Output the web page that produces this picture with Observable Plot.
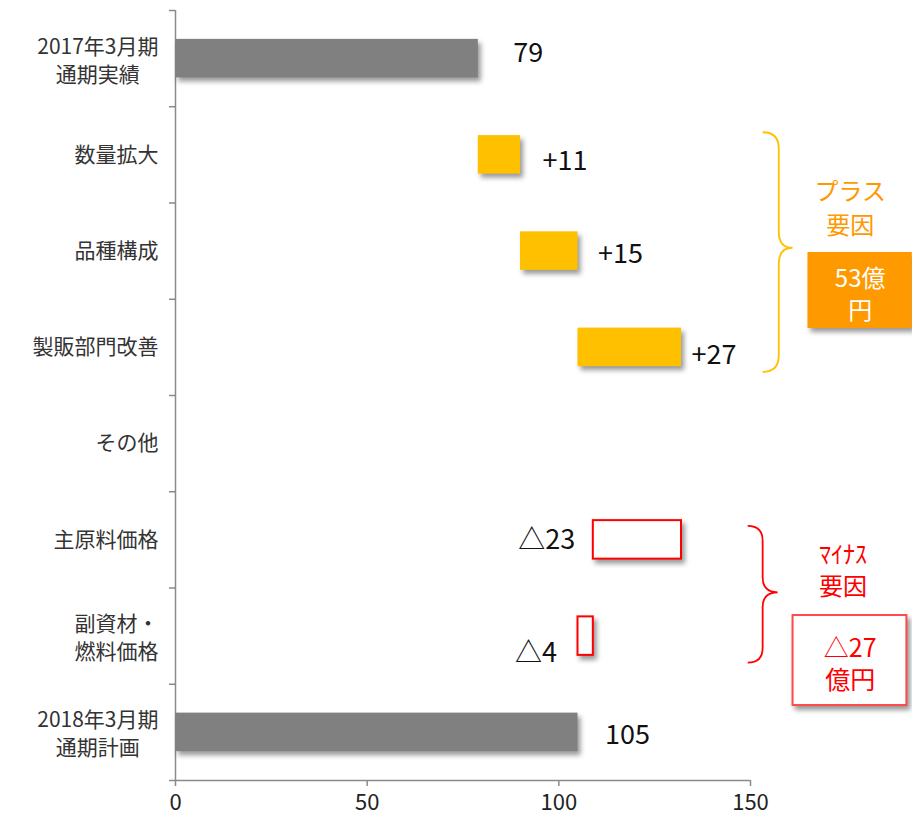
<!DOCTYPE html>
<html><head><meta charset="utf-8">
<script src="https://cdn.jsdelivr.net/npm/d3@7"></script>
<script src="https://cdn.jsdelivr.net/npm/@observablehq/plot@0.6"></script>
<style>html,body{margin:0;padding:0;background:#fff;} svg{display:block}</style>
</head><body><div id="chart"></div>
<script>
// ---- data ----
const categories = ["2017年3月期\n通期実績", "数量拡大", "品種構成", "製販部門改善", "その他", "主原料価格", "副資材・\n燃料価格", "2018年3月期\n通期計画"];
const barStart = [0, 79, 90, 105, null, 109, 105, 0];
const barEnd = [79, 90, 105, 132, null, 132, 109, 105];
const barKind = ["total", "plus", "plus", "plus", "none", "minus", "minus", "total"];
const valueLabels = ["79", "+11", "+15", "+27", "", "△23", "△4", "105"];
const xTicks = [0, 50, 100, 150];
const plusNote = "プラス\n要因";
const plusTotal = "53億\n円";
const minusNote = "ﾏｲﾅｽ\n要因";
const minusTotal = "△27\n億円";

// ---- styling / label offsets (pixels) ----
const labelDx = [35, 22, 20, 10, 0, -18, -21, 27];
const labelDy = [-5, 6, 3, 8, 0, 0, 17, 3];
const FONT = '"Noto Sans CJK JP", "Noto Sans", sans-serif';
const axisGray = "#8a8a8a";
const yFont = 21;
const SHADOW = "drop-shadow(3px 4px 2.5px rgba(0,0,0,0.4))";

const rows = categories.map((c, i) => ({i, cat: c, start: barStart[i], end: barEnd[i], kind: barKind[i], label: valueLabels[i]}));
const bars = rows.filter(d => d.kind !== "none");
const rowBounds = d3.range(categories.length + 1).map(k => k - 0.5);

const ctx = document.createElement("canvas").getContext("2d");
ctx.font = `${yFont}px ${FONT}`;

const yLabelMarks = rows.map(d => {
  const lines = d.cat.split("\n");
  if (lines.length === 1) {
    return Plot.text([d], {y: "i", text: "cat", frameAnchor: "left", textAnchor: "end", dx: -17, fontSize: yFont, fill: "#333"});
  }
  const w = Math.max(...lines.map(l => ctx.measureText(l).width));
  return Plot.text([d], {y: "i", text: "cat", frameAnchor: "left", textAnchor: "middle", dx: -17 - w / 2, fontSize: yFont, lineHeight: 1.33, fill: "#333"});
});

const valueMarks = rows.filter(d => d.label).map(d => Plot.text([d], {
  x: d.kind === "minus" ? "start" : "end", y: "i", text: "label",
  textAnchor: d.kind === "minus" ? "end" : "start",
  dx: labelDx[d.i], dy: labelDy[d.i], fontSize: 27, fill: "#111"
}));

// custom marks that use the plot's scales
function braceMark(spec) {
  return (index, scales) => {
    const {x, y} = scales;
    const x0 = x(spec.x0), xm = x(spec.xm), xt = x(spec.xt);
    const y1 = y(spec.y1), ym = y(spec.ym), y2 = y(spec.y2);
    const r = Math.abs(xm - x0);
    const p = `M${x0},${y1}Q${xm},${y1} ${xm},${y1 + r}L${xm},${ym - r}Q${xm},${ym} ${xt},${ym}Q${xm},${ym} ${xm},${ym + r}L${xm},${y2 - r}Q${xm},${y2} ${x0},${y2}`;
    const path = document.createElementNS("http://www.w3.org/2000/svg", "path");
    path.setAttribute("d", p);
    path.setAttribute("fill", "none");
    path.setAttribute("stroke", spec.color);
    path.setAttribute("stroke-width", 1.8);
    return path;
  };
}

// rect with soft drop shadow, drawn through the plot's scales
function shadowRects(data, {x1, x2, y1, y2, fill, stroke = "none", strokeWidth = 0}) {
  const val = (f, d) => typeof f === "function" ? f(d) : f;
  return (index, scales) => {
    const {x, y} = scales;
    const g = document.createElementNS("http://www.w3.org/2000/svg", "g");
    g.setAttribute("style", `filter:${SHADOW}`);
    for (const d of data) {
      const a = x(val(x1, d)), b = x(val(x2, d));
      const c = y(val(y1, d)), e = y(val(y2, d));
      const r = document.createElementNS("http://www.w3.org/2000/svg", "rect");
      r.setAttribute("x", Math.min(a, b));
      r.setAttribute("y", Math.min(c, e));
      r.setAttribute("width", Math.abs(b - a));
      r.setAttribute("height", Math.abs(e - c));
      r.setAttribute("fill", fill);
      r.setAttribute("stroke", stroke);
      r.setAttribute("stroke-width", strokeWidth);
      g.appendChild(r);
    }
    return g;
  };
}

const barY1 = d => d.i - 0.2, barY2 = d => d.i + 0.2;

const plot = Plot.plot({
  width: 912, height: 817,
  marginLeft: 175, marginRight: 162, marginTop: 10, marginBottom: 37,
  style: {fontFamily: FONT, background: "#fff"},
  x: {domain: [0, 150], label: null},
  y: {domain: [-0.5, categories.length - 0.5], reverse: true, label: null},
  marks: [
    Plot.axisY({ticks: rowBounds, tickSize: 6, tickFormat: () => "", stroke: axisGray, strokeWidth: 1.5, label: null}),
    Plot.axisX({ticks: xTicks, tickSize: 6, tickPadding: 8, fontSize: 22, stroke: axisGray, strokeWidth: 1.5, fill: "#222", label: null}),
    Plot.ruleX([0], {stroke: axisGray, strokeWidth: 1.5}),
    Plot.ruleY([categories.length - 0.5], {stroke: axisGray, strokeWidth: 1.5}),
    ...yLabelMarks,
    shadowRects(bars.filter(d => d.kind === "total"), {x1: d => d.start, x2: d => d.end, y1: barY1, y2: barY2, fill: "#808080"}),
    shadowRects(bars.filter(d => d.kind === "plus"), {x1: d => d.start, x2: d => d.end, y1: barY1, y2: barY2, fill: "#FFC000"}),
    shadowRects(bars.filter(d => d.kind === "minus"), {x1: d => d.start, x2: d => d.end, y1: barY1, y2: barY2, fill: "#fff", stroke: "#FF0000", strokeWidth: 2}),
    ...valueMarks,
    braceMark({x0: 153.3, xm: 157.5, xt: 161.1, y1: 0.77, ym: 1.97, y2: 3.26, color: "#FFC000"}),
    braceMark({x0: 149.4, xm: 153.3, xt: 157.2, y1: 4.86, ym: 5.55, y2: 6.28, color: "#FF0000"}),
    Plot.text([plusNote], {x: 176.0, y: 1.536, text: d => d, fill: "#FF9900", fontSize: 24, lineHeight: 1.4}),
    shadowRects([0], {x1: 165.0, x2: 192.2, y1: 2.014, y2: 2.804, fill: "#FF9900"}),
    Plot.text([plusTotal], {x: 178.6, y: 2.43, text: d => d, fill: "#fff", fontSize: 24, lineHeight: 1.36}),
    Plot.text([minusNote], {x: 174.1, y: 5.30, text: d => d, fill: "#FF0000", fontSize: 24, lineHeight: 1.33}),
    shadowRects([0], {x1: 161.1, x2: 190.8, y1: 5.786, y2: 6.721, fill: "#fff", stroke: "#FF4a4a", strokeWidth: 2}),
    Plot.text([minusTotal], {x: 176.0, y: 6.274, text: d => d, fill: "#FF0000", fontSize: 25, lineHeight: 1.3})
  ]
});

document.getElementById("chart").appendChild(plot);
</script>
</body></html>
